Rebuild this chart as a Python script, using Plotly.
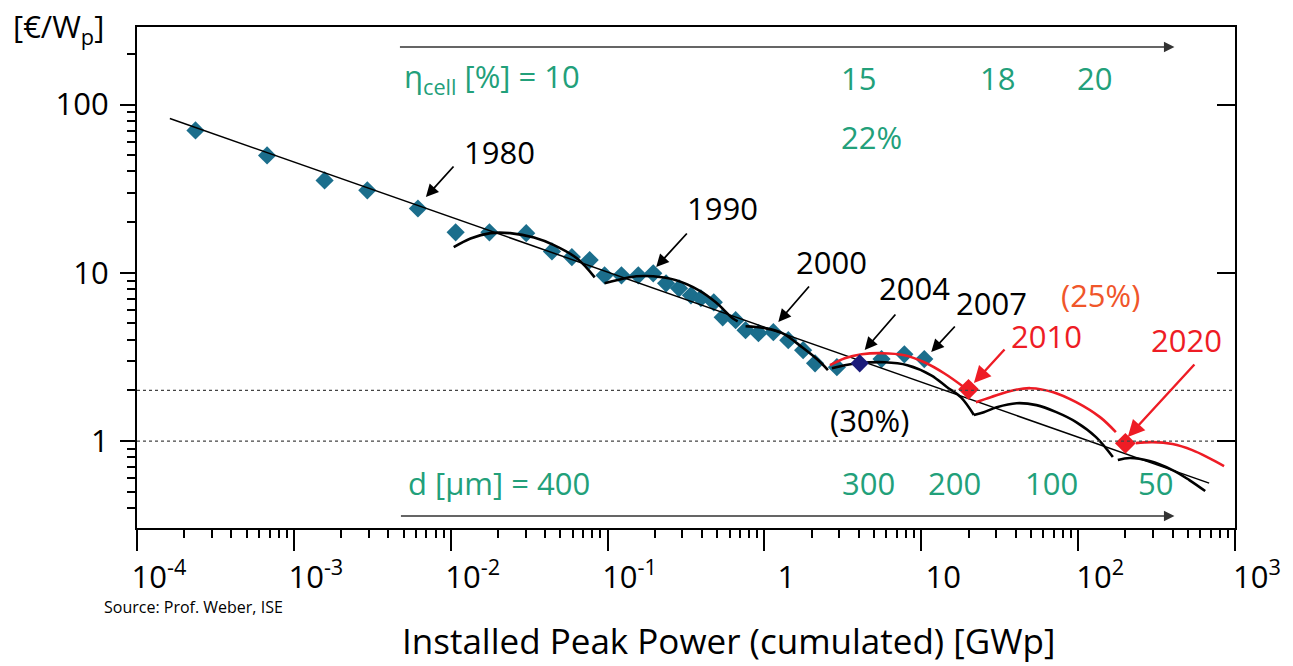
import plotly.graph_objects as go

# ---------------- data ----------------
# experience-curve straight line (endpoints)
line_x = [1.62e-4, 684]
line_y = [82.6, 0.563]

# historical module prices
mk_x = [2.36e-4, 6.75e-4, 1.57e-3, 2.94e-3, 6.18e-3, 0.01075, 0.01765, 0.0303, 0.0442,
        0.0592, 0.0769, 0.0957, 0.1226, 0.157, 0.1955, 0.236, 0.2856, 0.340, 0.3935,
        0.4755, 0.542, 0.6554, 0.758, 0.916, 1.14, 1.419, 1.765, 2.103, 2.897, 5.58,
        7.80, 10.45]
mk_y = [70.1, 49.8, 35.4, 30.9, 24.1, 17.4, 17.4, 17.2, 13.4,
        12.4, 11.9, 9.66, 9.66, 9.66, 9.93, 8.66, 8.09, 7.35, 7.06,
        6.68, 5.44, 5.23, 4.56, 4.38, 4.44, 3.98, 3.47, 2.90, 2.75, 3.07,
        3.28, 3.07]

# 2004 point
p2004_x = [4.05]
p2004_y = [2.90]

# projected points 2010, 2020
proj_x = [20, 200]
proj_y = [2.03, 0.97]

# technology-generation curves (black)
genA_x = [0.01045, 0.01338, 0.01791, 0.02397, 0.0340, 0.0455, 0.0637, 0.0828]
genA_y = [14.2, 16.0, 17.2, 17.2, 16.2, 14.6, 12.2, 9.40]
genB_x = [0.0957, 0.114, 0.1526, 0.1955, 0.2734, 0.3823, 0.4897, 0.627, 0.675]
genB_y = [8.66, 9.03, 9.53, 9.53, 9.03, 7.87, 6.68, 5.37, 5.15]
genC_x = [0.758, 1.015, 1.30, 1.74, 2.197, 2.54]
genC_y = [4.81, 4.68, 4.38, 3.61, 3.03, 2.64]
genD_x = [2.694, 3.256, 3.935, 5.83, 8.155, 11.57, 14.61, 17.92, 21.65]
genD_y = [2.71, 2.825, 2.90, 2.94, 2.825, 2.46, 2.09, 1.82, 1.43]
genE_x = [21.65, 25.04, 30.27, 40.5, 54.2, 72.6, 97.1, 130, 166.5]
genE_y = [1.43, 1.486, 1.59, 1.68, 1.636, 1.486, 1.297, 1.056, 0.804]
genF_x = [179.1, 213.4, 285.6, 399.4, 511.6, 645.8]
genF_y = [0.771, 0.793, 0.761, 0.673, 0.587, 0.505]

# projected generation curves (red)
redA_x = [2.616, 3.256, 4.17, 5.58, 7.80, 10.45, 13.98, 18.72]
redA_y = [2.825, 3.11, 3.28, 3.33, 3.24, 2.94, 2.53, 2.09]
redB_x = [22.29, 27.73, 38.8, 49.7, 69.5, 97.1, 137.8, 174]
redB_y = [1.704, 1.824, 2.007, 2.063, 1.953, 1.704, 1.388, 1.131]
redC_x = [232.9, 298.4, 399.4, 534.2, 684.6, 851.8]
redC_y = [0.973, 0.986, 0.96, 0.884, 0.793, 0.711]

# reference price levels (dotted)
ref_levels = [2, 1]

# axis ticks
x_tickvals = [1e-4, 1e-3, 1e-2, 1e-1, 1, 10, 100, 1000]
x_ticktext = ["10<sup>-4</sup>", "10<sup>-3</sup>", "10<sup>-2</sup>", "10<sup>-1</sup>",
              "1", "10", "10<sup>2</sup>", "10<sup>3</sup>"]
y_tickvals = [1, 10, 100]
y_ticktext = ["1", "10", "100"]

# ---------------- styling ----------------
FONT = "Open Sans"
GREEN = "#22a07a"
BLUE = "#1b6e8c"
RED = "#ee1c25"
W, H = 1293, 666
L, R, T, B = 137, 1243, 27, 528
FS = 31

x_minor = [m * 10 ** e for e in range(-4, 3) for m in range(2, 10)]
y_minor = [m * 10 ** e for e in range(-1, 3) for m in range(2, 10)]
y_minor = [v for v in y_minor if 0.3 <= v <= 290]

fig = go.Figure()

fig.add_trace(go.Scatter(x=mk_x, y=mk_y, mode="markers",
                         marker=dict(symbol="diamond", size=14, color=BLUE),
                         hoverinfo="skip", showlegend=False))
fig.add_trace(go.Scatter(x=line_x, y=line_y, mode="lines",
                         line=dict(color="black", width=1.5),
                         hoverinfo="skip", showlegend=False))
for v in ref_levels:
    fig.add_trace(go.Scatter(x=[1e-4, 1e3], y=[v, v], mode="lines", yaxis="y2",
                             line=dict(color="#444444", width=1.3, dash="dot"),
                             hoverinfo="skip", showlegend=False))
for gx, gy in [(genA_x, genA_y), (genB_x, genB_y), (genC_x, genC_y),
               (genD_x, genD_y), (genE_x, genE_y), (genF_x, genF_y)]:
    fig.add_trace(go.Scatter(x=gx, y=gy, mode="lines",
                             line=dict(color="black", width=2.6, shape="spline"),
                             hoverinfo="skip", showlegend=False))
for gx, gy in [(redA_x, redA_y), (redB_x, redB_y), (redC_x, redC_y)]:
    fig.add_trace(go.Scatter(x=gx, y=gy, mode="lines",
                             line=dict(color=RED, width=2.6, shape="spline"),
                             hoverinfo="skip", showlegend=False))
fig.add_trace(go.Scatter(x=p2004_x, y=p2004_y, mode="markers",
                         marker=dict(symbol="diamond", size=14, color="#1c1c7a"),
                         hoverinfo="skip", showlegend=False))
fig.add_trace(go.Scatter(x=proj_x, y=proj_y, mode="markers",
                         marker=dict(symbol="diamond", size=16, color=RED),
                         hoverinfo="skip", showlegend=False))

yr = [-0.5163, 2.4605]


def px(xp):
    return (xp - L) / (R - L)


def py(yp):
    return (B - yp) / (B - T)


ann = []
texts = [
    ("η<sub>cell</sub> [%] = 10", 404, 78, GREEN, "left"),
    ("15", 864, 78, GREEN, "center"),
    ("18", 1004, 78, GREEN, "center"),
    ("20", 1101, 78, GREEN, "center"),
    ("22%", 877, 137, GREEN, "center"),
    ("d [µm] = 400", 408, 483, GREEN, "left"),
    ("300", 874, 483, GREEN, "center"),
    ("200", 960, 483, GREEN, "center"),
    ("100", 1058, 483, GREEN, "center"),
    ("50", 1163, 483, GREEN, "center"),
    ("1980", 502, 152, "black", "center"),
    ("1990", 727, 208, "black", "center"),
    ("2000", 837, 262, "black", "center"),
    ("2004", 920, 288, "black", "center"),
    ("2007", 998, 303, "black", "center"),
    ("(30%)", 875, 420, "black", "center"),
    ("(25%)", 1108, 295, "#f0562a", "center"),
    ("2010", 1053, 336, RED, "center"),
    ("2020", 1194, 340, RED, "center"),
]
for t, x, y, c, xa in texts:
    ann.append(dict(text=t, x=px(x), y=py(y), xref="paper", yref="paper",
                    xanchor=xa, yanchor="middle", showarrow=False,
                    font=dict(family=FONT, size=FS, color=c)))

arrows = [
    (428, 197, 457, 165, "black", 1.8),
    (660, 267, 692, 232, "black", 1.8),
    (783, 322, 815, 285, "black", 1.8),
    (870, 350, 902, 313, "black", 1.8),
    (937, 352, 962, 325, "black", 1.8),
    (980, 383, 1012, 348, RED, 2.4),
    (1135, 437, 1203, 363, RED, 2.4),
    (1182, 47, 406, 47, "#333333", 1.5),
    (1182, 516, 407, 516, "#333333", 1.5),
]
for hx, hy, tx, ty, c, w in arrows:
    ann.append(dict(text="", x=px(hx), y=py(hy), xref="paper", yref="paper",
                    ax=tx - hx, ay=ty - hy, axref="pixel", ayref="pixel",
                    showarrow=True, arrowhead=2, arrowsize=1.4, arrowwidth=w,
                    arrowcolor=c, standoff=0, startstandoff=0))

# axis titles
ann.append(dict(text="[€/W<sub>p</sub>]", x=px(10), y=py(3), xref="paper", yref="paper",
                xanchor="left", yanchor="top", showarrow=False,
                font=dict(family=FONT, size=31, color="black")))
ann.append(dict(text="Installed Peak Power (cumulated) [GWp]", x=px(733), y=py(640),
                xref="paper", yref="paper", xanchor="center", yanchor="middle",
                showarrow=False, font=dict(family=FONT, size=35, color="black")))
ann.append(dict(text="Source: Prof. Weber, ISE", x=px(102), y=py(607), xref="paper",
                yref="paper", xanchor="left", yanchor="middle", showarrow=False,
                font=dict(family=FONT, size=16, color="black")))

fig.update_layout(
    width=W, height=H, autosize=False,
    margin=dict(l=L, r=W - R, t=T, b=H - B, pad=0),
    paper_bgcolor="white", plot_bgcolor="white",
    font=dict(family=FONT, size=FS, color="black"),
    showlegend=False,
    annotations=ann,
    xaxis=dict(type="log", range=[-4, 3], showgrid=False, zeroline=False,
               showline=True, linecolor="black", linewidth=2, mirror=True,
               ticks="outside", ticklen=21, tickwidth=2, tickcolor="black",
               tickvals=x_tickvals, ticktext=x_ticktext,
               tickfont=dict(family=FONT, size=31, color="black"),
               ticklabelshift=22, ticklabelstandoff=0,
               minor=dict(tickvals=x_minor, ticks="outside", ticklen=8,
                          tickwidth=2, tickcolor="black", showgrid=False)),
    yaxis=dict(type="log", range=yr, showgrid=False, zeroline=False,
               showline=True, linecolor="black", linewidth=2, mirror=True,
               ticks="outside", ticklen=15, tickwidth=2, tickcolor="black",
               tickvals=y_tickvals, ticktext=y_ticktext,
               tickfont=dict(family=FONT, size=31, color="black"),
               ticklabelstandoff=5,
               minor=dict(tickvals=y_minor, ticks="outside", ticklen=8,
                          tickwidth=2, tickcolor="black", showgrid=False)),
    yaxis2=dict(type="log", range=yr, overlaying="y", side="right",
                showgrid=False, zeroline=False, showline=False,
                ticks="inside", ticklen=18, tickwidth=2, tickcolor="black",
                tickvals=y_tickvals, showticklabels=False),
)

fig.write_html("out.html")
